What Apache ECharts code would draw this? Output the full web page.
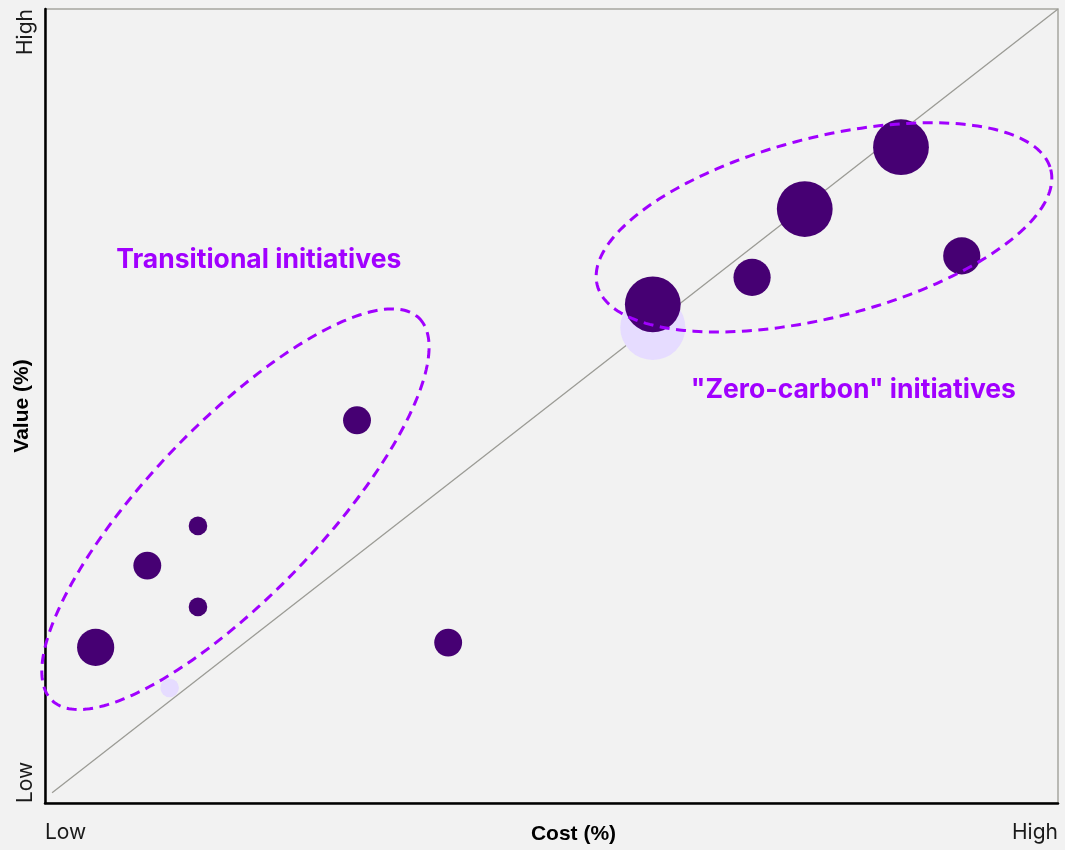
<!DOCTYPE html>
<html>
<head>
<meta charset="utf-8">
<title>Value vs cost of initiatives</title>
<script src="https://cdn.jsdelivr.net/npm/echarts@6/dist/echarts.min.js"></script>
<style>
  html, body { margin: 0; padding: 0; background: #f2f2f2; }
  #chart { width: 1065px; height: 850px; }
</style>
</head>
<body>
<div id="chart"></div>
<script>
// Axis end labels (qualitative scale, 0 = Low, 100 = High)
const xTickLabels = ['Low', 'High'];
const yTickLabels = ['Low', 'High'];

// Initiatives: [cost %, value %, weight]
const initiatives = [
  [5.0, 19.6, 4],
  [10.1, 29.9, 3],
  [15.1, 34.9, 2],
  [15.1, 24.7, 2],
  [30.8, 48.2, 3],
  [39.8, 20.2, 3],
  [60.0, 62.8, 6],
  [69.8, 66.2, 4],
  [75.0, 74.8, 6],
  [84.5, 82.6, 6],
  [90.5, 68.9, 4]
];

// Lighter (secondary) initiatives: [cost %, value %, weight]
const secondary = [
  [12.3, 14.5, 2],
  [60.0, 59.9, 7]
];

// Parity line, cost = value
const parity = [[0.7, 1.3], [100, 100]];

// Group names and where they sit: [cost %, value %]
const groupNames = ['Transitional initiatives', '"Zero-carbon" initiatives'];
const groupLabelAt = [[21.1, 68.4], [79.8, 52.0]];

// Group outlines: centre in data units, semi-axes in px, tilt in degrees
const groupOutlines = [
  { at: [18.8, 37.0], rx: 265, ry: 86, tilt: 46.2 },
  { at: [76.9, 72.5], rx: 234, ry: 90, tilt: 14.3 }
];

const DARK = '#460073';
const LIGHT = '#e6dcff';
const ACCENT = '#a100ff';

const bubbleSize = d => d[2] * 9.3;

const chart = echarts.init(document.getElementById('chart'));

chart.setOption({
  backgroundColor: '#f2f2f2',
  animation: false,
  grid: {
    left: 45, right: 7, top: 9, bottom: 47,
    containLabel: false,
    outerBoundsMode: 'none',
    show: true,
    backgroundColor: 'transparent',
    borderColor: '#a6a6a0',
    borderWidth: 1.5
  },
  xAxis: {
    type: 'value',
    min: 0, max: 100, interval: 100,
    name: 'Cost (%)',
    nameLocation: 'middle',
    nameGap: 21,
    nameMoveOverlap: false,
    nameTextStyle: {
      fontFamily: 'Liberation Sans, Arial, sans-serif',
      fontWeight: 'bold', fontSize: 21, color: '#000',
      verticalAlign: 'top',
      padding: [0, 0, 0, 44]
    },
    axisLine: { show: true, onZero: false, lineStyle: { color: '#000', width: 2.5 } },
    axisTick: { show: false },
    splitLine: { show: false },
    axisLabel: {
      margin: 19,
      fontFamily: 'Inter, sans-serif', fontSize: 21, color: '#1a1a1a',
      alignMinLabel: 'left', alignMaxLabel: 'right',
      formatter: v => (v === 0 ? xTickLabels[0] : xTickLabels[1])
    }
  },
  yAxis: {
    type: 'value',
    min: 0, max: 100, interval: 100,
    name: 'Value (%)',
    nameLocation: 'middle',
    nameGap: 12,
    nameRotate: 90,
    nameMoveOverlap: false,
    nameTextStyle: {
      fontFamily: 'Liberation Sans, Arial, sans-serif',
      fontWeight: 'bold', fontSize: 21, color: '#000'
    },
    axisLine: { show: true, onZero: false, lineStyle: { color: '#000', width: 2.5 } },
    axisTick: { show: false },
    splitLine: { show: false },
    axisLabel: {
      rotate: 90,
      margin: 9,
      fontFamily: 'Inter, sans-serif', fontSize: 21, color: '#1a1a1a',
      alignMinLabel: 'left', alignMaxLabel: 'right',
      formatter: v => (v === 0 ? yTickLabels[0] : yTickLabels[1])
    }
  },
  series: [
    {
      name: 'Parity',
      type: 'line',
      data: parity,
      symbol: 'none',
      silent: true,
      z: 1,
      lineStyle: { color: '#9b9b95', width: 1.3 }
    },
    {
      name: 'Secondary',
      type: 'scatter',
      data: secondary,
      symbolSize: bubbleSize,
      z: 2,
      itemStyle: { color: LIGHT, opacity: 1 }
    },
    {
      name: 'Initiatives',
      type: 'scatter',
      data: initiatives,
      symbolSize: bubbleSize,
      z: 3,
      itemStyle: { color: DARK, opacity: 1 }
    },
    {
      name: 'Groups',
      type: 'custom',
      z: 4,
      silent: true,
      data: groupOutlines.map(g => g.at),
      renderItem: (params, api) => {
        const g = groupOutlines[params.dataIndex];
        const c = api.coord([api.value(0), api.value(1)]);
        const th = g.tilt * Math.PI / 180;
        const ux = Math.cos(th), uy = -Math.sin(th);
        const vx = Math.sin(th), vy = Math.cos(th);
        const pts = [];
        for (let i = 0; i < 240; i++) {
          const t = (i / 240) * Math.PI * 2;
          const a = g.rx * Math.cos(t), b = g.ry * Math.sin(t);
          pts.push([c[0] + a * ux + b * vx, c[1] + a * uy + b * vy]);
        }
        return {
          type: 'polygon',
          shape: { points: pts },
          style: {
            fill: 'none',
            stroke: ACCENT,
            lineWidth: 3,
            lineDash: [10, 6.5]
          }
        };
      }
    },
    {
      name: 'Group names',
      type: 'custom',
      z: 5,
      silent: true,
      data: groupLabelAt,
      renderItem: (params, api) => {
        const c = api.coord([api.value(0), api.value(1)]);
        return {
          type: 'text',
          x: c[0], y: c[1],
          style: {
            text: groupNames[params.dataIndex],
            fill: ACCENT,
            font: 'bold 26.5px Inter, sans-serif',
            align: 'center',
            verticalAlign: 'middle'
          }
        };
      }
    }
  ]
});
</script>
</body>
</html>
